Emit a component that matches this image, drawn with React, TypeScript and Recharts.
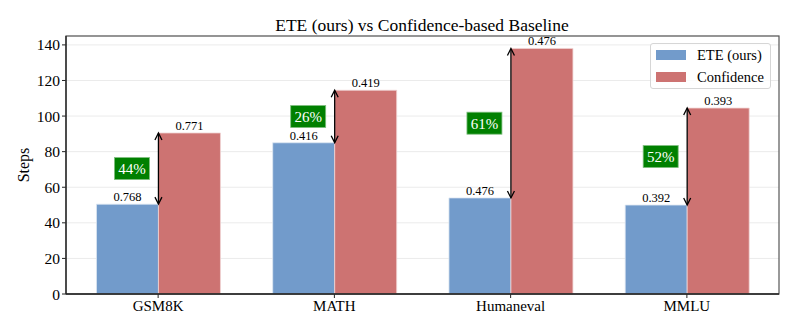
import { BarChart, Bar, XAxis, YAxis, CartesianGrid, Legend, LabelList } from 'recharts'

const categories = ['GSM8K', 'MATH', 'Humaneval', 'MMLU']
const eteSteps = [50.5, 85, 54, 50]
const confSteps = [90.5, 114.5, 138, 104.5]
const eteAcc = ['0.768', '0.416', '0.476', '0.392']
const confAcc = ['0.771', '0.419', '0.476', '0.393']
const savings = ['44%', '26%', '61%', '52%']
const yTicks = [0, 20, 40, 60, 80, 100, 120, 140]

const BLUE = '#729bcb'
const RED = '#cd7372'
const FONT = 'Liberation Serif'

const data = categories.map((name, i) => ({
  name,
  ete: eteSteps[i],
  conf: confSteps[i],
  eteAcc: eteAcc[i],
  confAcc: confAcc[i],
}))

// arrow + green percentage box, drawn from the confidence bar geometry
function SavingMark(props: any) {
  const { x, y, height, value, index } = props
  if (x == null || !height) return null
  const pxPerUnit = height / value
  const top = y
  const bottom = y + height - eteSteps[index] * pxPerUnit
  const cx = x
  const mid = (top + bottom) / 2
  const ah = 7
  const aw = 3.5
  return (
    <g>
      <line x1={cx} y1={top + 0.5} x2={cx} y2={bottom - 0.5} stroke="#000" strokeWidth={1.3} />
      <path d={`M${cx - aw},${top + ah} L${cx},${top} L${cx + aw},${top + ah}`} fill="none" stroke="#000" strokeWidth={1.3} />
      <path d={`M${cx - aw},${bottom - ah} L${cx},${bottom} L${cx + aw},${bottom - ah}`} fill="none" stroke="#000" strokeWidth={1.3} />
      <rect x={cx - 44} y={mid - 11} width={35} height={22} fill="#008000" stroke="#7fbf7f" strokeWidth={0.8} />
      <text x={cx - 26.5} y={mid + 5.5} textAnchor="middle" fill="#fff" fontSize={15} style={{ fontFamily: FONT }}>
        {savings[index]}
      </text>
    </g>
  )
}

export default function App() {
  return (
    <div style={{ position: 'absolute', left: 0, top: 0, width: 797, height: 332, background: '#fff', fontFamily: FONT }}>
      <svg width={797} height={332} style={{ position: 'absolute', left: 0, top: 0, pointerEvents: 'none', zIndex: 2, fontFamily: FONT }}>
        <text x={422} y={31} textAnchor="middle" fontSize={17.5} fill="#000">
          ETE (ours) vs Confidence-based Baseline
        </text>
        <text x={29} y={165} textAnchor="middle" fontSize={16} fill="#000" transform="rotate(-90 29 165)">
          Steps
        </text>
        <rect x={66} y={36} width={713} height={258} fill="none" stroke="#555" strokeWidth={1.2} />
        <line x1={66} y1={36} x2={66} y2={294} stroke="#222" strokeWidth={1.3} />
        <line x1={66} y1={294} x2={779} y2={294} stroke="#222" strokeWidth={1.3} />
      </svg>
      <BarChart
        width={797}
        height={332}
        data={data}
        margin={{ top: 36, right: 18, bottom: 0, left: 0 }}
        barCategoryGap="15%"
        barGap={0}
        style={{ fontFamily: FONT }}
      >
        <CartesianGrid vertical={false} stroke="#ebebeb" strokeWidth={1} />
        <XAxis
          dataKey="name"
          height={38}
          padding={{ left: 4, right: 4 }}
          axisLine={false}
          tickLine={{ stroke: '#222' }}
          tickSize={4}
          tick={{ fontSize: 15, fill: '#000', fontFamily: FONT }}
        />
        <YAxis
          width={66}
          domain={[0, 145]}
          ticks={yTicks}
          axisLine={false}
          tickLine={{ stroke: '#222' }}
          tickSize={4}
          tick={{ fontSize: 15.5, fill: '#000', fontFamily: FONT }}
        />
        <Legend
          layout="vertical"
          verticalAlign="top"
          align="right"
          content={() => (
            <div
              style={{
                position: 'absolute',
                left: 650,
                top: 43,
                width: 121,
                height: 46,
                border: '1px solid #d6d6d6',
                borderRadius: 3,
                background: 'rgba(255,255,255,0.8)',
                boxSizing: 'border-box',
                fontFamily: FONT,
                fontSize: 14.5,
              }}
            >
              {[
                ['ETE (ours)', BLUE],
                ['Confidence', RED],
              ].map(([label, c], i) => (
                <div key={label} style={{ position: 'absolute', left: 5, top: 2 + i * 22, height: 18, lineHeight: '18px', display: 'flex', alignItems: 'center' }}>
                  <span style={{ display: 'inline-block', width: 30, height: 10, background: c }} />
                  <span style={{ marginLeft: 11, color: '#000' }}>{label}</span>
                </div>
              ))}
            </div>
          )}
          wrapperStyle={{ position: 'absolute', left: 0, top: 0, width: 0, height: 0 }}
        />
        <Bar dataKey="ete" name="ETE (ours)" fill={BLUE} stroke="#dfe8f3" strokeWidth={0.8} isAnimationActive={false}>
          <LabelList dataKey="eteAcc" position="top" offset={3} fill="#000" fontSize={12.5} style={{ fontFamily: FONT }} />
        </Bar>
        <Bar dataKey="conf" name="Confidence" fill={RED} stroke="#f0d3d3" strokeWidth={0.8} isAnimationActive={false}>
          <LabelList dataKey="confAcc" position="top" offset={3} fill="#000" fontSize={12.5} style={{ fontFamily: FONT }} />
          <LabelList dataKey="conf" content={<SavingMark />} />
        </Bar>
      </BarChart>
    </div>
  )
}
